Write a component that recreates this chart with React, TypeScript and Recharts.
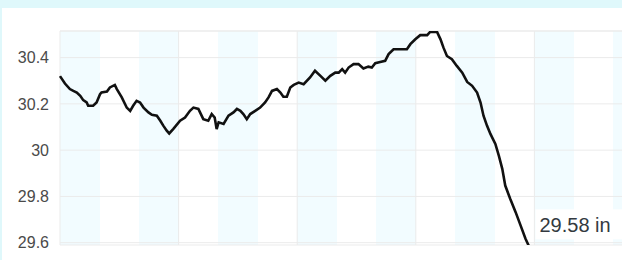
import React from "react";
import {
  LineChart,
  Line,
  XAxis,
  YAxis,
  CartesianGrid,
  ReferenceLine,
  LabelList,
} from "recharts";

// Time since start (hours)
const hours = [
  0, 1.0, 2.0, 2.7, 3.4, 4.1, 4.7, 5.4, 5.7, 6.7, 7.4, 8.1, 8.4, 9.5, 10.1, 11.1,
  11.5, 12.5, 13.5, 14.2, 14.8, 15.5, 16.2, 16.9, 17.9, 18.6, 19.6, 20.3, 20.9,
  21.6, 22.1, 22.9, 24.3, 25.3, 26.3, 27.0, 28.0, 29.0, 30.0, 30.7, 31.3, 31.7,
  32.1, 33.1, 34.1, 35.1, 35.8, 36.5, 37.1, 37.8, 38.5, 39.5, 40.5, 41.5, 42.2,
  42.9, 43.9, 44.6, 45.2, 45.9, 46.6, 47.3, 48.3, 49.3, 50.6, 51.6, 52.7, 53.7,
  54.7, 55.7, 56.4, 57.1, 57.7, 58.4, 59.4, 60.4, 61.4, 62.4, 63.1, 63.8, 64.8,
  65.8, 66.5, 67.5, 68.9, 70.2, 70.9, 71.9, 72.9, 74.3, 74.9, 76.3, 77.0, 77.6,
  78.3, 79.3, 80.3, 81.4, 82.4, 83.4, 84.4, 85.1, 85.7, 86.4, 87.1, 88.1, 88.8,
  89.5, 90.1, 91.1, 92.2, 93.2, 94.2, 95.0,
];

// Barometric pressure (inHg)
const pressure = [
  30.32, 30.288, 30.264, 30.256, 30.249, 30.235, 30.216, 30.206, 30.192, 30.192,
  30.206, 30.242, 30.249, 30.253, 30.271, 30.282, 30.264, 30.228, 30.184, 30.17,
  30.192, 30.213, 30.206, 30.184, 30.163, 30.153, 30.149, 30.127, 30.106, 30.084,
  30.072, 30.091, 30.127, 30.141, 30.17, 30.184, 30.178, 30.134, 30.127, 30.156,
  30.141, 30.091, 30.12, 30.113, 30.149, 30.163, 30.178, 30.17, 30.156, 30.134,
  30.156, 30.17, 30.184, 30.206, 30.228, 30.256, 30.264, 30.249, 30.231, 30.231,
  30.271, 30.282, 30.292, 30.285, 30.314, 30.343, 30.321, 30.3, 30.321, 30.335,
  30.335, 30.35, 30.335, 30.357, 30.372, 30.372, 30.353, 30.361, 30.357, 30.376,
  30.381, 30.386, 30.415, 30.436, 30.436, 30.436, 30.458, 30.479, 30.497, 30.497,
  30.511, 30.511, 30.479, 30.443, 30.407, 30.393, 30.364, 30.335, 30.295, 30.278,
  30.249, 30.206, 30.149, 30.106, 30.07, 30.027, 29.976, 29.919, 29.847, 29.79,
  29.732, 29.675, 29.617, 29.58,
];

const yTicks = [29.6, 29.8, 30, 30.2, 30.4];
const dayTicks = [0, 24, 48, 72, 96, 120];
const bandTicks = [0, 8, 16, 24, 32, 40, 48, 56, 64, 72, 80, 88, 96, 104, 112, 120];
const xDomain = [0, 120];
const yDomain = [29.59, 30.515];
const unit = "in";

const data = hours.map((h, i) => ({ h, p: pressure[i] }));
const lastIndex = data.length - 1;

const EndLabel = (props: any) => {
  const { x, y, index, value } = props;
  if (index !== lastIndex) return null;
  const text = `${Number(value).toFixed(2)} ${unit}`;
  return (
    <g>
      <rect x={x + 6} y={y - 38} width={90} height={30} fill="#ffffff" />
      <text
        x={x + 10}
        y={y - 22}
        dominantBaseline="central"
        fontSize={20}
        fontFamily="'Liberation Sans', Arial, sans-serif"
        fill="#333a40"
      >
        {text}
      </text>
    </g>
  );
};

export default function App() {
  return (
    <div
      style={{
        position: "absolute",
        left: 0,
        top: 0,
        width: 622,
        height: 260,
        overflow: "hidden",
        background: "#dff8fb",
      }}
    >
      <div
        style={{
          position: "absolute",
          left: 2,
          top: 8,
          width: 700,
          height: 300,
          background: "#ffffff",
        }}
      />
      <div style={{ position: "absolute", left: 0, top: 0 }}>
        <LineChart
          width={660}
          height={260}
          data={data}
          margin={{ top: 31, right: 7, bottom: 15, left: 0 }}
        >
          <XAxis
            xAxisId="bands"
            dataKey="h"
            type="number"
            domain={xDomain}
            ticks={bandTicks}
            hide
          />
          <XAxis
            dataKey="h"
            type="number"
            domain={xDomain}
            ticks={dayTicks}
            hide
          />
          <YAxis
            type="number"
            domain={yDomain}
            ticks={yTicks}
            allowDataOverflow
            width={60}
            axisLine={false}
            tickLine={false}
            tickSize={0}
            tickMargin={11}
            tick={{
              fontSize: 16,
              fill: "#4a4a4a",
              fontFamily: "'Liberation Sans', Arial, sans-serif",
            }}
          />
          <CartesianGrid
            xAxisId="bands"
            horizontal={false}
            vertical={true}
            stroke="none"
            verticalFill={["#f2fcff", "#ffffff"]}
            fillOpacity={1}
          />
          <CartesianGrid stroke="#ebebeb" strokeWidth={1} />
          <ReferenceLine y={yDomain[1]} stroke="#ebebeb" ifOverflow="extendDomain" />
          <Line
            type="linear"
            dataKey="p"
            stroke="#111111"
            strokeWidth={2.6}
            dot={false}
            isAnimationActive={false}
          >
            <LabelList dataKey="p" content={EndLabel} />
          </Line>
        </LineChart>
      </div>
    </div>
  );
}
